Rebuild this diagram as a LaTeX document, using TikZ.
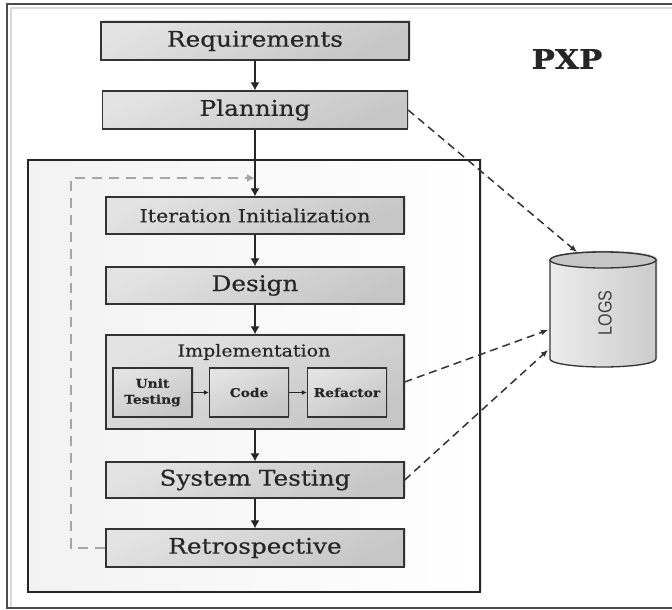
\documentclass[tikz,border=0pt]{standalone}
\usepackage{fontspec}
\usetikzlibrary{arrows.meta,shadows}
\setmainfont{DejaVu Serif}[FakeStretch=1.15, FakeBold=0.5]
\newfontfamily\logsfont{Liberation Sans}
\definecolor{txt}{HTML}{262626}
\tikzset{
  stepbox/.style={draw=black!80, line width=1.3pt, rectangle, top color=gray!22, bottom color=gray!45, shading angle=25,
    drop shadow={shadow xshift=1.5pt, shadow yshift=1.5pt, opacity=0.25}, text=txt, inner sep=0pt},
  subbox/.style={stepbox, minimum width=79pt, minimum height=49pt, font=\fontsize{12}{16}\selectfont\bfseries, align=center},
  bigtext/.style={font=\fontsize{21.5}{24}\selectfont},
  flow/.style={draw=black!85, line width=1.2pt, -{Latex[length=8pt,width=9pt]}},
  small flow/.style={draw=black!85, line width=1pt, -{Latex[length=5pt,width=5pt]}},
  logflow/.style={draw=black!80, line width=1.5pt, dash pattern=on 8pt off 5pt, -{Latex[length=7pt,width=6pt]}},
  loopflow/.style={draw=gray!70, line width=1.4pt, dash pattern=on 10pt off 7pt, -{Latex[length=8pt,width=8pt]}},
}
\begin{document}
\begin{tikzpicture}[x=1pt,y=-1pt]
\useasboundingbox (0,0) rectangle (672,610);
% outer frame (open on the right)
\draw[gray!30, line width=1.5pt] (11,608) -- (11,8) -- (672,8);
\draw[black!70, line width=2pt] (672,4) -- (7,4) -- (7,608) -- (672,608);
% inner frame
\draw[black!85, line width=1.4pt, left color=gray!10, right color=white,
  drop shadow={shadow xshift=1.5pt, shadow yshift=1.5pt, opacity=0.25}] (28,160) rectangle (480,592);

\node[stepbox, minimum width=308pt, minimum height=38pt, bigtext] (req) at (255,41) {Requirements};
\node[stepbox, minimum width=305pt, minimum height=38pt, bigtext] (plan) at (255,110) {Planning};
\node[stepbox, minimum width=298pt, minimum height=37pt, font=\fontsize{18}{20}\selectfont] (iter) at (255,215.5) {Iteration Initialization};
\node[stepbox, minimum width=298pt, minimum height=37pt, bigtext] (design) at (255,285.5) {Design};
\node[stepbox, minimum width=298pt, minimum height=94pt] (impl) at (255,382) {};
\node[text=txt, font=\fontsize{16.5}{18}\selectfont] (impllabel) at (254,352) {Implementation};
\node[subbox] (unit) at (152.5,392.5) {Unit\\Testing};
\node[subbox] (code) at (249,392.5) {Code};
\node[subbox] (refac) at (347,392.5) {Refactor};
\node[stepbox, minimum width=298pt, minimum height=36pt, bigtext] (sys) at (255,480) {System Testing};
\node[stepbox, minimum width=298pt, minimum height=38pt, bigtext] (retro) at (255,548) {Retrospective};

\node[font=\fontsize{27}{30}\selectfont\bfseries, text=black!85] (pxp) at (567,59) {PXP};

% cylinder LOGS
\path[left color=gray!15, right color=gray!40, draw=black!80, line width=1.3pt,
  drop shadow={shadow xshift=1.5pt, shadow yshift=1.5pt, opacity=0.25}]
  (550,260) -- (550,359) arc[start angle=180, end angle=360, x radius=53pt, y radius=8pt]
  -- (656,260) arc[start angle=0, end angle=180, x radius=53pt, y radius=8pt] -- cycle;
\draw[fill=gray!45, draw=black!80, line width=1.3pt] (603,260) ellipse[x radius=53pt, y radius=8pt];
\node[rotate=90, text=black!75, font=\logsfont\fontsize{19}{21}\selectfont] (logs) at (605,313) {\scalebox{0.85}[1]{LOGS}};
\coordinate (logtop) at (577,252);
\coordinate (logmid) at (548,330);
\coordinate (logbot) at (548,350);

% flow
\draw[flow] (req) -- (plan);
\draw[flow] (plan) -- (iter);
\draw[flow] (iter) -- (design);
\draw[flow] (design) -- (impl);
\draw[flow] (impl) -- (sys);
\draw[flow] (sys) -- (retro);
\draw[small flow] (unit) -- (code);
\draw[small flow] (code) -- (refac);

% loop back
\coordinate (loopcorner) at (71,178);
\coordinate (loopend) at (255,178);
\draw[loopflow] (retro.west) -| (loopcorner) -- (loopend);

% logs
\draw[logflow] (plan.east) -- (logtop);
\draw[logflow] (impl.east) -- (logmid);
\draw[logflow] (sys.east) -- (logbot);
\end{tikzpicture}
\end{document}
